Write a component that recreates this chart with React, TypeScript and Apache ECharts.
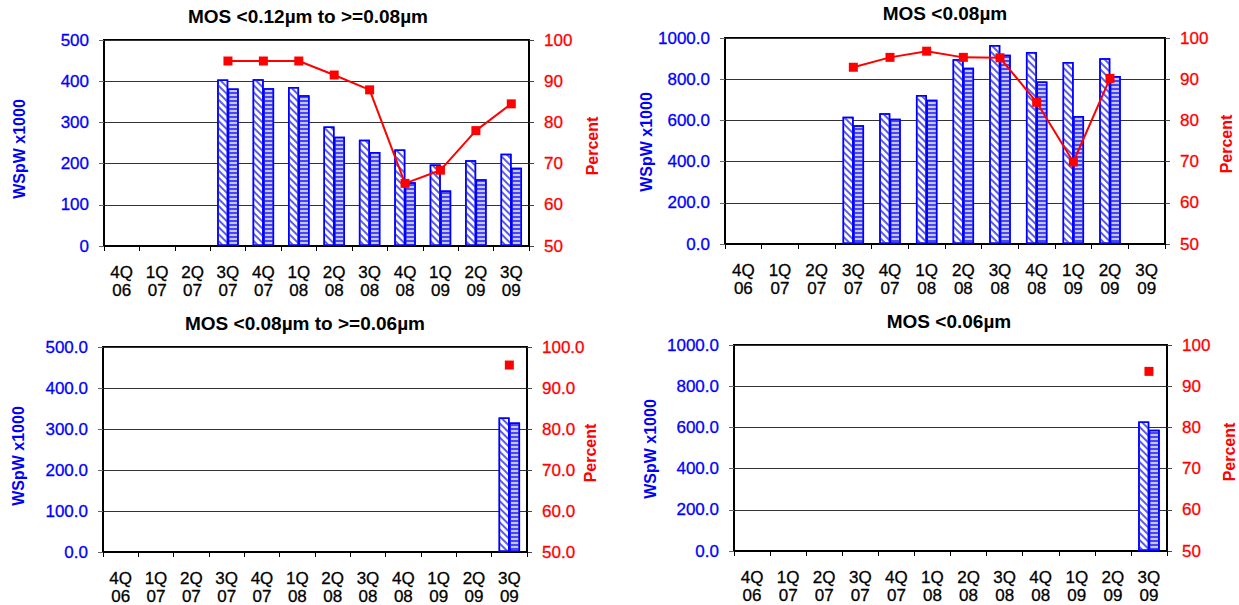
import React, { useEffect, useRef } from "react";
import * as echarts from "echarts";

const categories = ["4Q\n06", "1Q\n07", "2Q\n07", "3Q\n07", "4Q\n07", "1Q\n08", "2Q\n08", "3Q\n08", "4Q\n08", "1Q\n09", "2Q\n09", "3Q\n09"];

const titles = ["MOS <0.12µm to >=0.08µm", "MOS <0.08µm", "MOS <0.08µm to >=0.06µm", "MOS <0.06µm"];

const p1Hatched = [null, null, null, 404, 405, 386, 290, 258, 234, 198, 208, 224];
const p1Striped = [null, null, null, 382, 383, 366, 265, 228, 155, 135, 162, 190];
const p1Percent = [null, null, null, 94.9, 94.9, 94.9, 91.5, 87.9, 65.2, 68.4, 78.0, 84.5];

const p2Hatched = [null, null, null, 618, 635, 723, 897, 966, 932, 884, 902, null];
const p2Striped = [null, null, null, 576, 608, 700, 855, 919, 789, 621, 815, null];
const p2Percent = [null, null, null, 92.9, 95.3, 96.8, 95.3, 95.2, 84.4, 69.9, 90.2, null];

const p3Hatched = [null, null, null, null, null, null, null, null, null, null, null, 328];
const p3Striped = [null, null, null, null, null, null, null, null, null, null, null, 316];
const p3Percent = [null, null, null, null, null, null, null, null, null, null, null, 95.6];

const p4Hatched = [null, null, null, null, null, null, null, null, null, null, null, 629];
const p4Striped = [null, null, null, null, null, null, null, null, null, null, null, 589];
const p4Percent = [null, null, null, null, null, null, null, null, null, null, null, 93.6];

const leftMax = [500, 1000, 500, 1000];
const leftInterval = [100, 200, 100, 200];
const leftDecimals = [0, 1, 1, 1];
const rightDecimals = [0, 0, 1, 0];

const FONT = "'Liberation Sans', Arial, sans-serif";

const panels = [
  { hatched: p1Hatched, striped: p1Striped, pct: p1Percent, grid: { left: 104, top: 40, width: 425, height: 206 }, titleX: 308, titleY: 7, nameL: [19, 149], nameR: [592, 146] },
  { hatched: p2Hatched, striped: p2Striped, pct: p2Percent, grid: { left: 725, top: 38, width: 440, height: 206 }, titleX: 945, titleY: 4, nameL: [646, 142], nameR: [1226, 144] },
  { hatched: p3Hatched, striped: p3Striped, pct: p3Percent, grid: { left: 103, top: 347, width: 424, height: 206 }, titleX: 305, titleY: 314, nameL: [18, 456], nameR: [590, 453] },
  { hatched: p4Hatched, striped: p4Striped, pct: p4Percent, grid: { left: 734, top: 345, width: 433, height: 206 }, titleX: 949, titleY: 312, nameL: [650, 449], nameR: [1229, 452] },
];

function buildOption() {
  const grid: any[] = [];
  const xAxis: any[] = [];
  const yAxis: any[] = [];
  const series: any[] = [];
  const graphic: any[] = [];

  panels.forEach((p, i) => {
    grid.push({ ...p.grid, show: true, borderColor: "#000", borderWidth: 2, backgroundColor: "transparent" });
    xAxis.push({
      type: "category",
      gridIndex: i,
      data: categories,
      boundaryGap: true,
      axisLine: { show: true, lineStyle: { color: "#000", width: 2 } },
      axisTick: { show: true, length: 5, lineStyle: { color: "#000", width: 1 } },
      axisLabel: {
        interval: 0,
        color: "#000",
        fontSize: 17,
        lineHeight: 18,
        margin: 17,
        fontFamily: FONT,
        textBorderColor: "#000",
        textBorderWidth: 0.3,
      },
      splitLine: { show: false },
    });
    yAxis.push({
      type: "value",
      gridIndex: i,
      position: "left",
      min: 0,
      max: leftMax[i],
      interval: leftInterval[i],
      axisLine: { show: true, lineStyle: { color: "#000", width: 2 } },
      axisTick: { show: true, length: 5, lineStyle: { color: "#666", width: 1 } },
      axisLabel: {
        color: "#0000ff",
        fontSize: 17,
        margin: 15,
        fontFamily: FONT,
        textBorderColor: "#0000ff",
        textBorderWidth: 0.3,
        formatter: (v: number) => v.toFixed(leftDecimals[i]),
      },
      splitLine: { show: true, lineStyle: { color: "#333", width: 1 } },
    });
    yAxis.push({
      type: "value",
      gridIndex: i,
      position: "right",
      min: 50,
      max: 100,
      interval: 10,
      axisLine: { show: true, lineStyle: { color: "#000", width: 2 } },
      axisTick: { show: true, length: 5, lineStyle: { color: "#444", width: 1 } },
      axisLabel: {
        color: "#ff0000",
        fontSize: 17,
        margin: 15,
        fontFamily: FONT,
        textBorderColor: "#ff0000",
        textBorderWidth: 0.3,
        formatter: (v: number) => v.toFixed(rightDecimals[i]),
      },
      splitLine: { show: false },
    });

    series.push({
      type: "bar",
      xAxisIndex: i,
      yAxisIndex: i * 2,
      data: p.hatched,
      barWidth: 11,
      barGap: "-5%",
      itemStyle: {
        color: "#ffffff",
        borderColor: "#0000ff",
        borderWidth: 1.5,
        decal: {
          symbol: "rect",
          symbolSize: 1,
          color: "#5c5ce8",
          backgroundColor: null,
          dashArrayX: [1, 0],
          dashArrayY: [1.5, 2.2],
          rotation: Math.PI / 4,
        },
      },
    });
    series.push({
      type: "bar",
      xAxisIndex: i,
      yAxisIndex: i * 2,
      data: p.striped,
      barWidth: 11,
      barGap: "-5%",
      itemStyle: {
        color: "#c4c4ff",
        borderColor: "#0000ff",
        borderWidth: 1.5,
        decal: {
          symbol: "rect",
          symbolSize: 1,
          color: "#4848ee",
          backgroundColor: null,
          dashArrayX: [1, 0],
          dashArrayY: [1.6, 2],
          rotation: 0,
        },
      },
    });
    series.push({
      type: "line",
      xAxisIndex: i,
      yAxisIndex: i * 2 + 1,
      data: p.pct,
      symbol: "rect",
      symbolSize: 9,
      showAllSymbol: true,
      connectNulls: false,
      lineStyle: { color: "#ff0000", width: 2 },
      itemStyle: { color: "#ff0000" },
      z: 5,
    });

    graphic.push({
      type: "text",
      x: p.titleX,
      y: p.titleY,
      style: { text: titles[i], align: "center", verticalAlign: "top", fill: "#000", font: `bold 19px ${FONT}` },
    });
    graphic.push({
      type: "text",
      x: p.nameL[0],
      y: p.nameL[1],
      rotation: Math.PI / 2,
      style: { text: "WSpW x1000", align: "center", verticalAlign: "middle", fill: "#0000ff", font: `bold 16px ${FONT}` },
    });
    graphic.push({
      type: "text",
      x: p.nameR[0],
      y: p.nameR[1],
      rotation: Math.PI / 2,
      style: { text: "Percent", align: "center", verticalAlign: "middle", fill: "#ff0000", font: `bold 16px ${FONT}` },
    });
  });

  return {
    animation: false,
    backgroundColor: "#ffffff",
    textStyle: { fontFamily: FONT },
    grid,
    xAxis,
    yAxis,
    series,
    graphic,
  };
}

export default function App() {
  const ref = useRef<HTMLDivElement>(null);
  useEffect(() => {
    if (!ref.current) return;
    const chart = echarts.init(ref.current, null, { renderer: "svg" });
    chart.setOption(buildOption() as any);
    return () => chart.dispose();
  }, []);
  return <div ref={ref} style={{ position: "fixed", left: 0, top: 0, width: 1239, height: 605, background: "#fff" }} />;
}
